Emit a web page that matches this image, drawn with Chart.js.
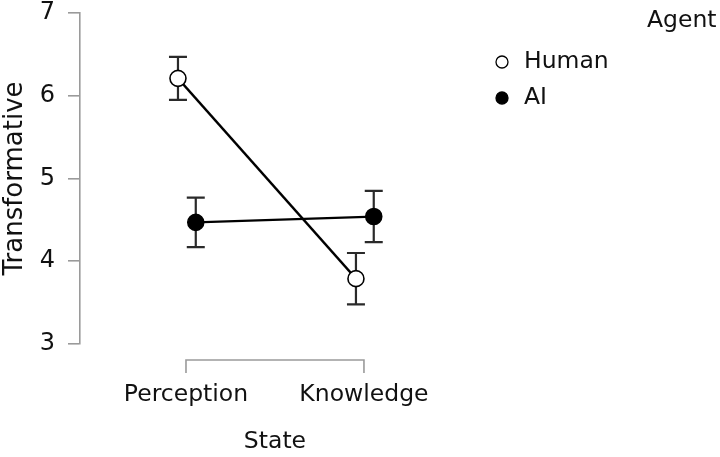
<!DOCTYPE html>
<html>
<head>
<meta charset="utf-8">
<script src="https://cdn.jsdelivr.net/npm/chart.js@4.4.1/dist/chart.umd.min.js"></script>
<style>
  html, body { margin: 0; padding: 0; background: #fff; }
  #wrap { width: 720px; height: 457px; position: relative; }
</style>
</head>
<body>
<div id="wrap"><canvas id="chart"></canvas></div>
<script>
/* ── DATA ── */
const states     = ['Perception', 'Knowledge'];
const agents     = ['Human', 'AI'];
const humanMean  = [6.21, 3.79];
const humanErr   = [0.26, 0.31];
const aiMean     = [4.47, 4.54];
const aiErr      = [0.30, 0.31];
const yTicks     = [3, 4, 5, 6, 7];

const FONT   = 'DejaVu Sans';
const TXT    = '#111';
const AXIS   = '#9a9a9a';
const dodge  = [-0.045, 0.055];   // Human left, AI right

function toPoints(means, off) {
  return means.map((v, i) => ({ x: i + 1 + off, y: v }));
}

/* error bars, drawn under the markers */
const errorBars = {
  id: 'errorBars',
  beforeDatasetsDraw(chart) {
    const { ctx, scales: { x, y } } = chart;
    ctx.save();
    ctx.strokeStyle = '#2a2a2a';
    ctx.lineWidth = 2.2;
    chart.data.datasets.forEach(ds => {
      ds.data.forEach((p, i) => {
        const px = x.getPixelForValue(p.x);
        const top = y.getPixelForValue(p.y + ds.err[i]);
        const bot = y.getPixelForValue(p.y - ds.err[i]);
        ctx.beginPath();
        ctx.moveTo(px, top); ctx.lineTo(px, bot);
        ctx.moveTo(px - 9, top); ctx.lineTo(px + 9, top);
        ctx.moveTo(px - 9, bot); ctx.lineTo(px + 9, bot);
        ctx.stroke();
      });
    });
    ctx.restore();
  }
};

/* range-frame x axis + legend */
const frame = {
  id: 'frame',
  afterDraw(chart) {
    const { ctx, scales: { x } } = chart;
    const x0 = x.getPixelForValue(1);
    const x1 = x.getPixelForValue(states.length);
    const yl = 360;
    ctx.save();
    ctx.strokeStyle = AXIS;
    ctx.lineWidth = 1.6;
    ctx.beginPath();
    ctx.moveTo(x0, yl + 13); ctx.lineTo(x0, yl);
    ctx.lineTo(x1, yl); ctx.lineTo(x1, yl + 13);
    ctx.stroke();

    ctx.fillStyle = TXT;
    ctx.font = `23.5px "${FONT}"`;
    ctx.textAlign = 'center';
    ctx.textBaseline = 'middle';
    states.forEach((s, i) => ctx.fillText(s, x.getPixelForValue(i + 1), 395));
    ctx.fillText('State', (x0 + x1) / 2, 442);

    // legend
    ctx.textAlign = 'left';
    ctx.fillText('Agent', 647, 21);
    chart.data.datasets.forEach((ds, i) => {
      const ly = 62 + i * 36;
      ctx.beginPath();
      ctx.arc(502, ly, 6, 0, Math.PI * 2);
      ctx.fillStyle = ds.pointBackgroundColor;
      ctx.fill();
      ctx.lineWidth = 1.3;
      ctx.strokeStyle = '#000';
      ctx.stroke();
      ctx.fillStyle = TXT;
      ctx.fillText(ds.label, 524, ly);
    });
    ctx.restore();
  }
};

const series = [
  { label: agents[0], data: toPoints(humanMean, dodge[0]), err: humanErr, fill: '#fff' },
  { label: agents[1], data: toPoints(aiMean, dodge[1]),    err: aiErr,    fill: '#000' }
];

new Chart(document.getElementById('chart').getContext('2d'), {
  type: 'line',
  plugins: [errorBars, frame],
  data: {
    datasets: series.map(s => ({
      label: s.label,
      data: s.data,
      err: s.err,
      borderColor: '#000',
      borderWidth: 2.3,
      pointRadius: 8,
      pointBorderWidth: 1.6,
      pointBorderColor: '#000',
      pointBackgroundColor: s.fill,
      tension: 0
    }))
  },
  options: {
    responsive: true,
    maintainAspectRatio: false,
    animation: false,
    layout: { padding: { top: 13, bottom: 113, left: 0, right: 240 } },
    plugins: { legend: { display: false }, tooltip: { enabled: false } },
    scales: {
      x: {
        type: 'linear',
        display: false,
        min: 0.4045,
        max: 2.652
      },
      y: {
        min: yTicks[0],
        max: yTicks[yTicks.length - 1],
        afterFit(scale) {
          scale.width = 80;
          scale.paddingTop = 0;
          scale.paddingBottom = 0;
        },
        afterBuildTicks(scale) { scale.ticks = yTicks.map(v => ({ value: v })); },
        border: { display: true, color: AXIS, width: 1.6 },
        grid: { drawOnChartArea: false, drawTicks: true, tickLength: 12, color: AXIS, lineWidth: 1.6 },
        ticks: { color: TXT, padding: 13, font: { size: 24, family: FONT } },
        title: {
          display: true,
          text: 'Transformative',
          color: TXT,
          padding: 0,
          font: { size: 26, family: FONT }
        }
      }
    }
  }
});
</script>
</body>
</html>
